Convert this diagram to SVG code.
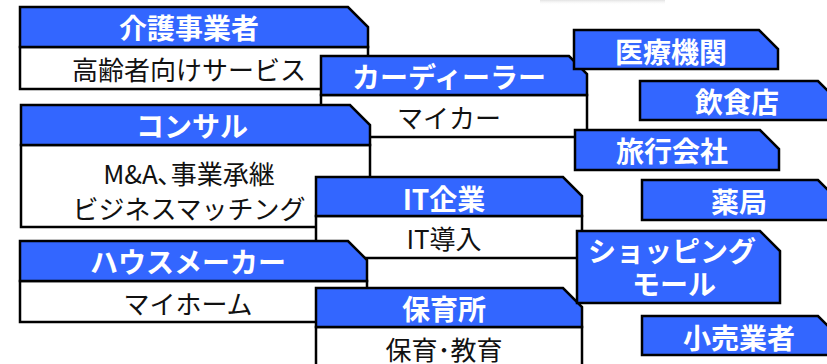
<svg xmlns="http://www.w3.org/2000/svg" width="827" height="364" viewBox="0 0 827 364">
<defs>
<linearGradient id="shadow" x1="0" y1="0" x2="0" y2="1">
<stop offset="0" stop-color="#e2e2e2"/>
<stop offset="1" stop-color="#ffffff" stop-opacity="0"/>
</linearGradient>
</defs>
<style>
.hd{fill:#3366FF;stroke:#000;stroke-width:2.5;stroke-linejoin:miter}
.bd{fill:#fff;stroke:#000;stroke-width:2.5}
.ht{font-family:"Noto Sans CJK JP","Noto Sans",sans-serif;font-weight:bold;font-size:28px;fill:#fff;text-anchor:middle;dominant-baseline:central}
.bt{font-family:"Noto Sans CJK JP","Noto Sans",sans-serif;font-size:26px;fill:#111;text-anchor:middle;dominant-baseline:central}
</style>
<rect width="827" height="364" fill="#fff"/>
<rect x="540" y="0" width="125" height="5" fill="url(#shadow)"/>
<g id="connectors"/>
<g id="kaigo">
<rect class="bd" x="20" y="47" width="348" height="42"/>
<path class="hd" d="M20,7 H348 L368,27 V47 H20 Z"/>
<text class="ht" x="189" y="27">介護事業者</text>
<text class="bt" x="189" y="68">高齢者向けサービス</text>
</g>
<g id="dealer">
<rect class="bd" x="321" y="95" width="266" height="42"/>
<path class="hd" d="M321,56 H569 L587,74 V95 H321 Z"/>
<text class="ht" x="449" y="76">カーディーラー</text>
<text class="bt" x="449" y="116">マイカー</text>
</g>
<g id="consul">
<rect class="bd" x="21" y="145" width="349" height="82"/>
<path class="hd" d="M21,105 H350 L370,125 V145 H21 Z"/>
<text class="ht" x="192" y="125">コンサル</text>
<text class="bt" x="189" y="172">M&amp;A､事業承継</text>
<text class="bt" x="189" y="207">ビジネスマッチング</text>
</g>
<g id="it">
<rect class="bd" x="316" y="216" width="266" height="42"/>
<path class="hd" d="M316,177 H563 L582,196 V216 H316 Z"/>
<text class="ht" x="444" y="198">IT企業</text>
<text class="bt" x="444" y="237">IT導入</text>
</g>
<g id="house">
<rect class="bd" x="20" y="281" width="347" height="41"/>
<path class="hd" d="M20,241 H348 L367,260 V281 H20 Z"/>
<text class="ht" x="188" y="261">ハウスメーカー</text>
<text class="bt" x="188" y="302">マイホーム</text>
</g>
<g id="hoiku">
<rect class="bd" x="316" y="327" width="266" height="45"/>
<path class="hd" d="M316,288 H563 L582,307 V327 H316 Z"/>
<text class="ht" x="444" y="308">保育所</text>
<text class="bt" x="444" y="348">保育･教育</text>
</g>
<g id="iryo">
<path class="hd" d="M574,30 H759 L778,49 V69 H574 Z"/>
<text class="ht" x="671" y="51">医療機関</text>
</g>
<g id="inshoku">
<path class="hd" d="M640,81 H818 L837,100 V120 H640 Z"/>
<text class="ht" x="737" y="101">飲食店</text>
</g>
<g id="ryoko">
<path class="hd" d="M575,130 H760 L779,149 V170 H575 Z"/>
<text class="ht" x="672" y="150">旅行会社</text>
</g>
<g id="yakkyoku">
<path class="hd" d="M642,180 H818 L837,199 V220 H642 Z"/>
<text class="ht" x="739" y="201">薬局</text>
</g>
<g id="shopping">
<path class="hd" d="M577,231 H760 L780,251 V303 H577 Z"/>
<text class="ht" x="672" y="250">ショッピング</text>
<text class="ht" x="674" y="283">モール</text>
</g>
<g id="kouri">
<path class="hd" d="M642,316 H818 L837,335 V355 H642 Z"/>
<text class="ht" x="739" y="337">小売業者</text>
</g>
</svg>
